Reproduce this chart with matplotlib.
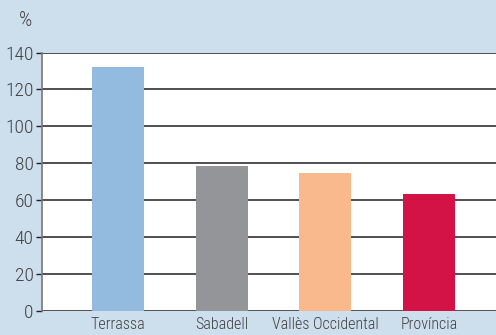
import matplotlib
matplotlib.use("Agg")
import matplotlib.pyplot as plt

categories = ["Terrassa", "Sabadell", "Vallès Occidental", "Província"]
values = [132, 78.5, 74.7, 63.4]
colors = ["#92BBDF", "#939598", "#F9B98D", "#D31245"]
yticks = [0, 20, 40, 60, 80, 100, 120, 140]

plt.rcParams["font.family"] = ["Roboto Condensed", "DejaVu Sans"]
plt.rcParams["font.weight"] = "light"

bg = "#CDDEEC"
fig = plt.figure(figsize=(4.96, 3.35), dpi=100, facecolor=bg)
ax = fig.add_axes([42 / 496, 1 - 311 / 335, 454 / 496, (311 - 52.5) / 335])
ax.set_facecolor("white")

x = range(len(categories))
ax.bar(x, values, width=0.5, color=colors, zorder=3)

ax.set_ylim(0, 140)
ax.set_xlim(-0.733, 3.646)
ax.set_yticks(yticks)
ax.set_xticks(list(x))
ax.set_xticklabels(categories)
ax.yaxis.grid(True, color="#231F20", linewidth=1.1, zorder=1)
ax.set_axisbelow(True)

for s in ["top", "right", "bottom"]:
    ax.spines[s].set_visible(False)
ax.spines["left"].set_color("#77787B")
ax.spines["left"].set_linewidth(1.2)

ax.tick_params(axis="y", length=4, width=1, color="#231F20", labelsize=14,
               labelcolor="#414042", pad=2)
ax.tick_params(axis="x", length=0, labelsize=11.5, labelcolor="#414042", pad=4)

fig.text(19 / 496, 1 - 20 / 335, "%", fontsize=15, color="#414042",
         ha="left", va="center")

fig.savefig("out.png", dpi=100, facecolor=bg)
